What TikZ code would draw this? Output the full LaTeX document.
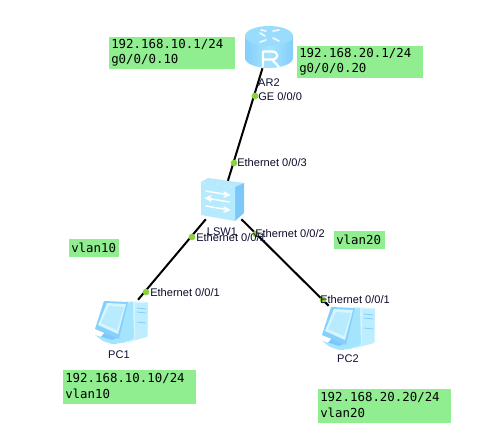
\documentclass[tikz,border=0pt]{standalone}
\usepackage{fontspec}
\setmainfont{Liberation Sans}
\setmonofont{DejaVu Sans Mono}
\definecolor{notegreen}{HTML}{90EE90}
\definecolor{dotgreen}{HTML}{8CD13C}
\definecolor{lblue}{HTML}{A5E4FD}
\definecolor{mblue}{HTML}{7CC8FB}
\definecolor{pale}{HTML}{D5F6FF}
\definecolor{labelink}{HTML}{10103A}
\newcommand{\pcicon}[2]{%
 \begin{scope}[shift={(#1,#2)}]
  % base
  \fill[mblue] (10,36) -- (27,36) -- (30,44) -- (20,48) -- (5,42) -- cycle;
  \fill[lblue] (0,39) -- (17,44) -- (28,40) -- (27,47) -- (17,48) -- (8,45) -- cycle;
  % tower
  \fill[pale] (32,5) -- (53,6) -- (53,40) -- (33,47) -- cycle;
  \fill[lblue] (24,8) -- (38,6) -- (39,43) -- (28,47) -- (20,40) -- cycle;
  \fill[pale!50!lblue] (40,7) -- (53,7) -- (52,41) -- (40,44) -- cycle;
  \draw[mblue,line width=.5pt] (42,12) -- (51,13) (42,16) -- (51,17) (42,26) -- (51,27);
  % monitor
  \fill[mblue!70!lblue] (9,5) -- (33,6) -- (24,43) -- (0,33) -- cycle;
  \fill[pale] (12,7) -- (31,8) -- (23,38) -- (3,29) -- cycle;
  \fill[lblue!60!pale] (14,10) -- (29,11) -- (22,34) -- (6,27) -- cycle;
 \end{scope}}
\tikzset{
 notetext/.style={anchor=west,font=\ttfamily\fontsize{9.3}{12}\selectfont,text=black,inner sep=0pt},
 device/.style={rectangle,inner sep=0pt,minimum width=#1*.75pt},
 portdot/.style={circle,fill=dotgreen,inner sep=0pt,minimum size=5pt},
 port/.style={anchor=west,font=\fontsize{8.3}{10}\selectfont,text=labelink!70!black,inner sep=0pt},
 devlabel/.style={font=\fontsize{8.3}{10}\selectfont,text=labelink,inner sep=0pt},
 link/.style={line width=1.5pt,black}
}
\begin{document}
\begin{tikzpicture}[x=.75pt,y=-.75pt]
\useasboundingbox (0,0) rectangle (503,438);
\fill[white] (0,0) rectangle (503,438);
% notes
\fill[notegreen] (109,37) rectangle (235,69);
\fill[notegreen] (297,46) rectangle (423,78);
\fill[notegreen] (69,239) rectangle (119,257);
\fill[notegreen] (334,231) rectangle (385,249);
\fill[notegreen] (63,370) rectangle (196,404);
\fill[notegreen] (318,389) rectangle (451,423);
\node[notetext] (n1a) at (111,44) {192.168.10.1/24};
\node[notetext] (n1b) at (111,60) {g0/0/0.10};
\node[notetext] (n2a) at (299,53) {192.168.20.1/24};
\node[notetext] (n2b) at (299,69) {g0/0/0.20};
\node[notetext] (n3) at (71,248) {vlan10};
\node[notetext] (n4) at (336,240) {vlan20};
\node[notetext] (n5a) at (65,378) {192.168.10.10/24};
\node[notetext] (n5b) at (65,394) {vlan10};
\node[notetext] (n6a) at (320,397) {192.168.20.20/24};
\node[notetext] (n6b) at (320,413) {vlan20};
% router icon
\shade[left color=mblue!80!lblue,right color=mblue!80!lblue,middle color=lblue]
  (245,36) -- (245,58) arc[start angle=180,end angle=0,x radius=24,y radius=10] -- (293,36) -- cycle;
\fill[lblue!70!mblue] (269,36) ellipse[x radius=24,y radius=10];
\draw[white,line width=1.3pt,line cap=round,opacity=.85]
  (260,33) -- (265,36) (266,31) -- (261,30) (273,31) -- (279,30) (273,38) -- (279,41) (266,40) -- (260,42);
\draw[white,line width=1.7pt,line join=round]
  (263,67) -- (263,51.5) -- (272,51.5) .. controls (279,51.5) and (279,59.5) .. (272,59.5) -- (263,59.5) (272,59.5) -- (279,67);
% switch icon
\fill[lblue!80!white] (201,182) -- (208,178) -- (244,183) -- (235,187) -- cycle;
\fill[mblue] (235,187) -- (244,183) -- (244,213) -- (235,221) -- cycle;
\fill[lblue!65!pale] (201,182) -- (235,187) -- (235,221) -- (201,215) -- cycle;
\draw[white,line width=1.1pt,line cap=round]
  (206,191) -- (229,195) (224,192) -- (229,195) -- (224,197)
  (229,202) -- (206,198) (211,196) -- (206,198) -- (211,201)
  (206,206) -- (229,210) (224,207) -- (229,210) -- (224,212);
% pcs
\pcicon{95}{296}
\pcicon{322}{302}
% device nodes
\node[device=48,minimum height=31.5pt] (r) at (269,47) {};
\node[device=44,minimum height=28.5pt] (sw) at (222,200) {};
\node[device=52,minimum height=30pt] (pc1) at (121,320) {};
\node[device=52,minimum height=30pt] (pc2) at (349,326) {};
% links
\draw[link] (r) -- (sw);
\draw[link] (sw) -- (pc1);
\draw[link] (sw) -- (pc2);
% device labels
\node[devlabel] (lr) at (269,83) {AR2};
\node[devlabel] (ls) at (222,232) {LSW1};
\node[devlabel] (lp1) at (119,355) {PC1};
\node[devlabel] (lp2) at (348,359) {PC2};
% port markers and labels
\node[portdot] (d1) at (255,96) {};
\node[portdot] (d2) at (234,163) {};
\node[portdot] (d3) at (192,237) {};
\node[portdot] (d4) at (256,234) {};
\node[portdot] (d5) at (146,292) {};
\node[portdot] (d6) at (323,300) {};
\node[port] (p1) at (258,97) {GE 0/0/0};
\node[port] (p2) at (237,163) {Ethernet 0/0/3};
\node[port] (p3) at (196,238) {Ethernet 0/0/1};
\node[port] (p4) at (255,234) {Ethernet 0/0/2};
\node[port] (p5) at (150,293) {Ethernet 0/0/1};
\node[port] (p6) at (320,300) {Ethernet 0/0/1};
\end{tikzpicture}
\end{document}
